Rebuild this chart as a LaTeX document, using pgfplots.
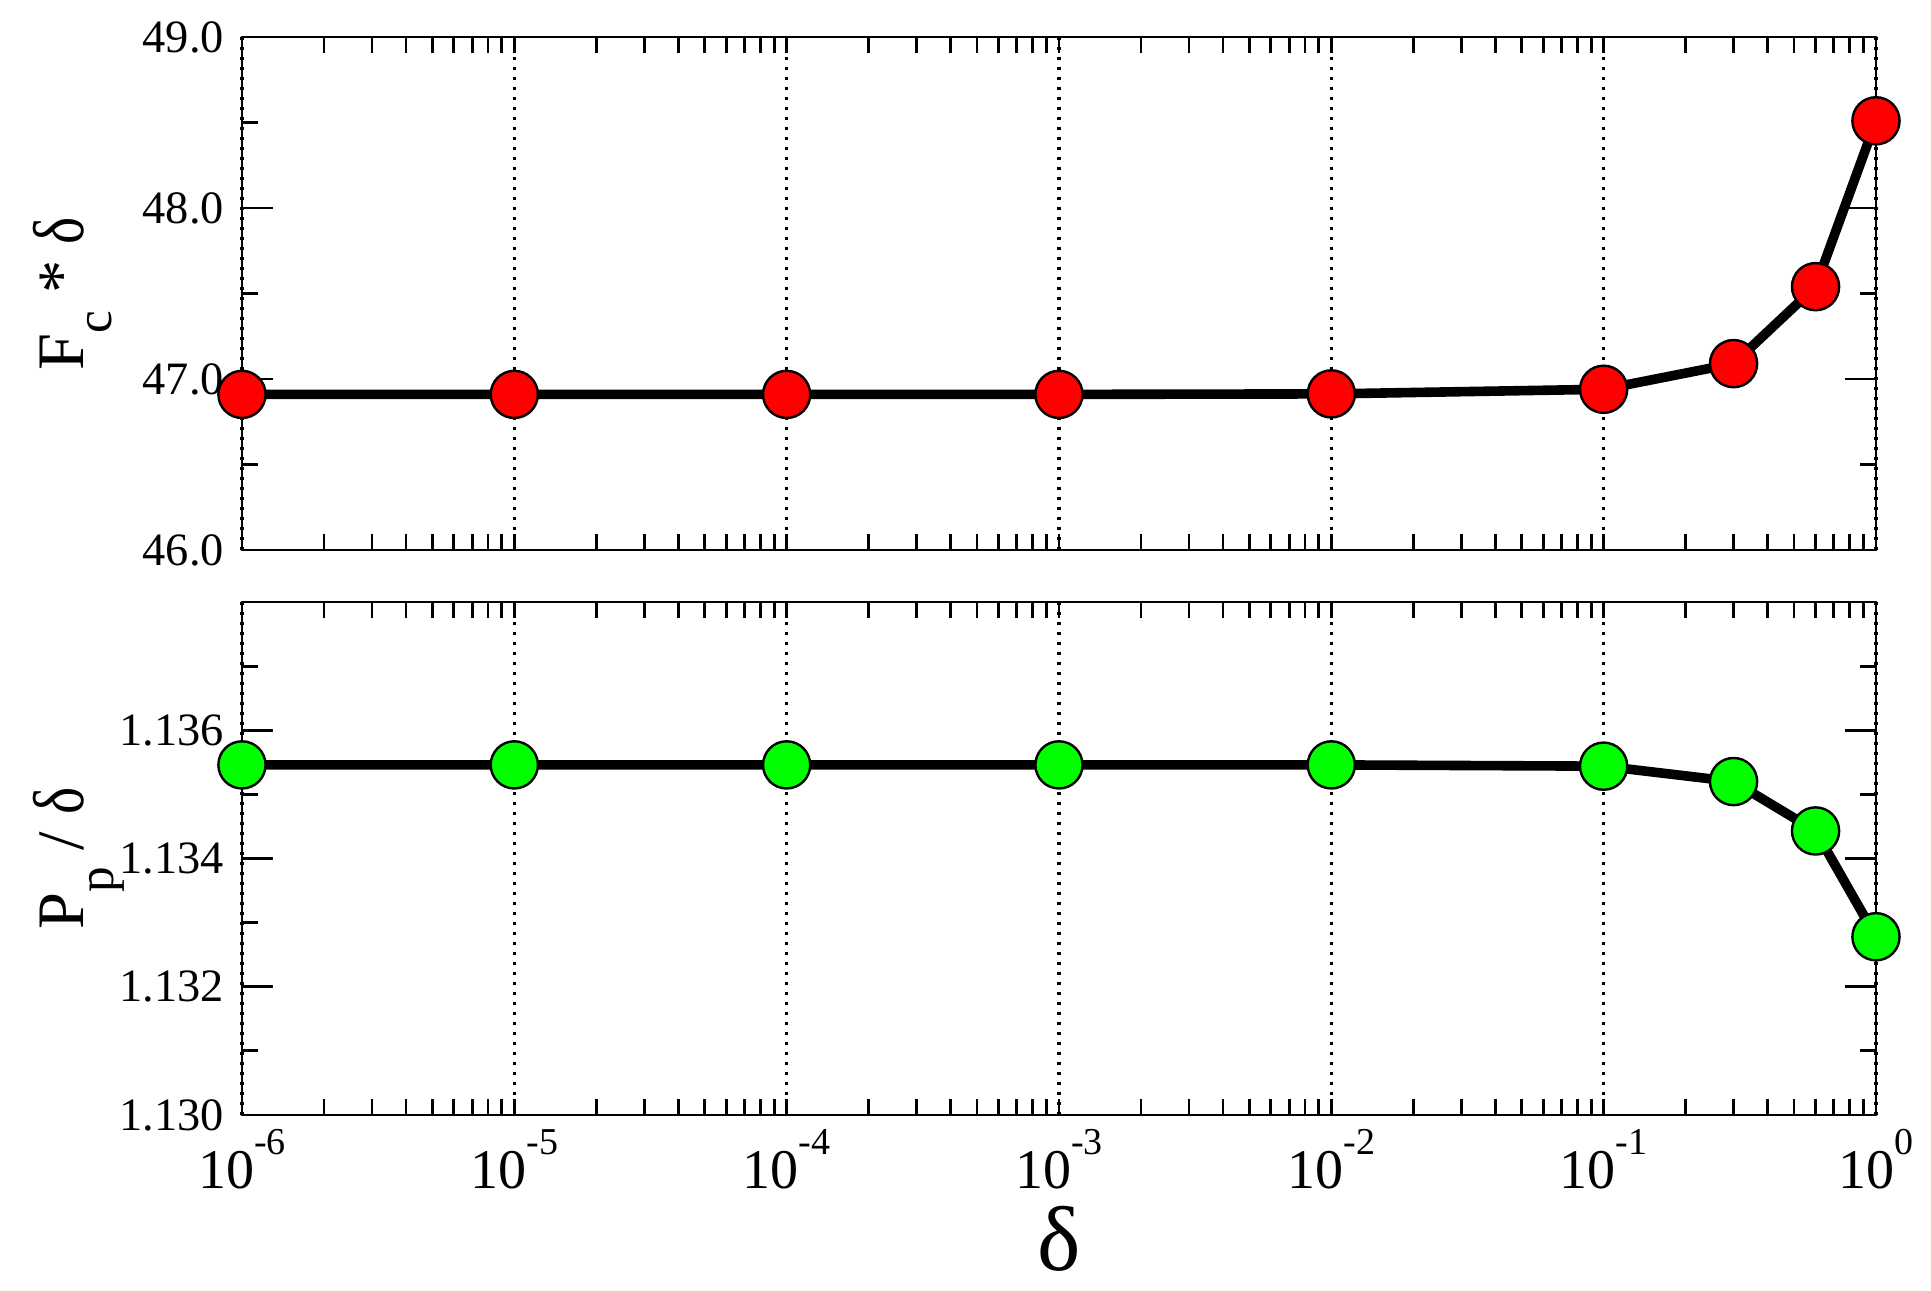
\documentclass[border=0pt]{standalone}
\usepackage{fontspec}
\setmainfont{Liberation Serif}
\usepackage{graphicx}
\usepackage{pgfplots}
\pgfplotsset{compat=1.18}
\definecolor{myred}{RGB}{255,0,0}
\definecolor{mygreen}{RGB}{0,255,0}
\newcommand{\tlab}[1]{10\raisebox{8.5pt}{\fontsize{9.5}{9.5}\selectfont #1}}
\newcommand{\bd}{\scalebox{0.8}[1]{\fontsize{18}{18}\selectfont δ}}
\begin{document}
\begin{tikzpicture}
\useasboundingbox (0,0) rectangle (482.75pt,322.5pt);
\begin{axis}[scale only axis, width=408.5pt, height=128.25pt,
    xmode=log, xmin=1e-6, xmax=1,
    xtick={1e-6,1e-5,1e-4,1e-3,1e-2,1e-1,1},
    tick align=inside, tick pos=both,
    axis line style={line width=0.7pt},
    tick style={black, line width=0.7pt},
    major tick length=7.8pt, minor tick length=4.1pt,
    xtick style={/pgfplots/major tick length=3.9pt},
    xmajorgrids,
    major x grid style={black, line width=0.8pt, dash pattern=on 0.8pt off 1.7pt},
    clip=false,
    at={(60.5pt,185pt)}, anchor=south west,
  ymin=46, ymax=49, ytick={46,47,48,49}, minor ytick={46.5,47.5,48.5},
  yticklabel style={font=\fontsize{11.6}{12}\selectfont, xshift=-1pt, /pgf/number format/fixed, /pgf/number format/fixed zerofill, /pgf/number format/precision=1, /pgf/number format/assume math mode=true},
  xticklabels={},
  every axis y label/.style={at={(axis description cs:-0.0967,0.5)}, rotate=90, anchor=base, font=\fontsize{16.6}{17}\selectfont},
  ylabel={F\raisebox{-6.8pt}{\fontsize{12.8}{13}\selectfont c} * \bd}]
\addplot[black, line width=2.4pt, mark=*, mark size=5.9pt, mark options={fill=myred, draw=black, line width=0.6pt}] coordinates {
 (1e-6,46.91) (1e-5,46.91) (1e-4,46.91) (1e-3,46.91) (1e-2,46.913)
 (1e-1,46.94) (0.3,47.09) (0.6,47.54) (1.0,48.51)};
\end{axis}
\begin{axis}[scale only axis, width=408.5pt, height=128.25pt,
    xmode=log, xmin=1e-6, xmax=1,
    xtick={1e-6,1e-5,1e-4,1e-3,1e-2,1e-1,1},
    tick align=inside, tick pos=both,
    axis line style={line width=0.7pt},
    tick style={black, line width=0.7pt},
    major tick length=7.8pt, minor tick length=4.1pt,
    xtick style={/pgfplots/major tick length=3.9pt},
    xmajorgrids,
    major x grid style={black, line width=0.8pt, dash pattern=on 0.8pt off 1.7pt},
    clip=false,
    at={(60.5pt,43.75pt)}, anchor=south west,
  ymin=1.130, ymax=1.138, ytick={1.130,1.132,1.134,1.136}, minor ytick={1.131,1.133,1.135,1.137},
  yticklabel style={font=\fontsize{11.6}{12}\selectfont, xshift=-1pt, /pgf/number format/fixed, /pgf/number format/fixed zerofill, /pgf/number format/precision=3, /pgf/number format/assume math mode=true},
  xticklabels={\tlab{-6},\tlab{-5},\tlab{-4},\tlab{-3},\tlab{-2},\tlab{-1},\tlab{0}},
  xticklabel style={font=\fontsize{14}{14}\selectfont},
  xlabel={δ},
  every axis x label/.style={at={(axis description cs:0.5,-0.3022)}, anchor=base, inner sep=0pt, font=\fontsize{23}{23}\selectfont},
  every axis y label/.style={at={(axis description cs:-0.0967,0.5)}, rotate=90, anchor=base, font=\fontsize{16.6}{17}\selectfont},
  ylabel={P\raisebox{-7.5pt}{\fontsize{12.8}{13}\selectfont p} / \bd}]
\addplot[black, line width=2.4pt, mark=*, mark size=5.9pt, mark options={fill=mygreen, draw=black, line width=0.6pt}] coordinates {
 (1e-6,1.13546) (1e-5,1.13546) (1e-4,1.13546) (1e-3,1.13546) (1e-2,1.13546)
 (1e-1,1.13544) (0.3,1.13520) (0.6,1.13443) (1.0,1.13278)};
\end{axis}
\end{tikzpicture}
\end{document}
